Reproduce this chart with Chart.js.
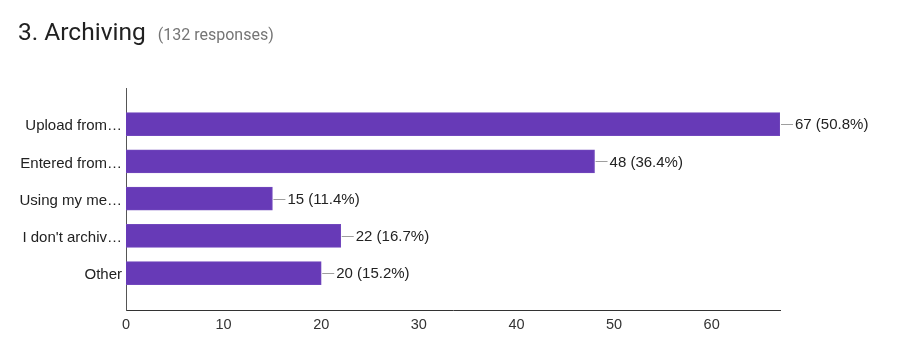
<!DOCTYPE html>
<html>
<head>
<meta charset="utf-8">
<script src="https://cdn.jsdelivr.net/npm/chart.js@4"></script>
<style>
  body { margin: 0; background: #fff; }
  #wrap { position: relative; width: 897px; height: 360px; }
  #title { position: absolute; left: 18px; top: 17px; font-family: Roboto, sans-serif; white-space: nowrap; }
  #title .main { font-size: 24.5px; color: #212121; }
  #title .sub { font-size: 16px; color: #757575; margin-left: 12px; }
  canvas { position: absolute; left: 0; top: 0; }
</style>
</head>
<body>
<div id="wrap">
  <canvas id="chart" width="897" height="360"></canvas>
  <div id="title"><span class="main">3. Archiving</span><span class="sub">(132 responses)</span></div>
</div>
<script>
var categories = ["Upload from\u2026", "Entered from\u2026", "Using my me\u2026", "I don't archiv\u2026", "Other"];
var counts = [67, 48, 15, 22, 20];
var percents = ["50.8%", "36.4%", "11.4%", "16.7%", "15.2%"];
var xTicks = [0, 10, 20, 30, 40, 50, 60];

var valueLabels = {
    id: "valueLabels",
    afterDatasetsDraw: function (chart) {
        var ctx = chart.ctx;
        var meta = chart.getDatasetMeta(0);
        ctx.save();
        ctx.font = "15px 'Liberation Sans', Arial, sans-serif";
        ctx.textBaseline = "middle";
        meta.data.forEach(function (bar, i) {
            var x = bar.x;
            var y = bar.y;
            ctx.strokeStyle = "#9e9e9e";
            ctx.lineWidth = 1;
            ctx.beginPath();
            ctx.moveTo(x + 1, Math.round(y) + 0.5);
            ctx.lineTo(x + 13, Math.round(y) + 0.5);
            ctx.stroke();
            ctx.fillStyle = "#222";
            ctx.fillText(counts[i] + " (" + percents[i] + ")", x + 15, y + 1);
        });
        ctx.restore();
    }
};

var ctx = document.getElementById("chart").getContext("2d");
var chart = new Chart(ctx, {
    type: "bar",
    data: {
        datasets: [{
            data: counts.map(function (v, i) { return { x: v, y: i }; }),
            backgroundColor: "#673ab7",
            borderColor: "#7248bd",
            borderWidth: 1,
            borderSkipped: "left",
            barThickness: 23
        }]
    },
    options: {
        indexAxis: "y",
        responsive: false,
        animation: false,
        layout: { padding: { top: 88, right: 117, bottom: 0, left: 0 } },
        plugins: { legend: { display: false }, tooltip: { enabled: false } },
        scales: {
            x: {
                type: "linear",
                min: 0,
                max: 67,
                grid: { display: false, drawTicks: false },
                border: { display: true, color: "#333", width: 1 },
                afterBuildTicks: function (scale) {
                    scale.ticks = xTicks.map(function (v) { return { value: v }; });
                },
                afterFit: function (scale) { scale.height = 50; },
                ticks: {
                    padding: 6,
                    color: "#333",
                    font: { family: "'Liberation Sans', Arial, sans-serif", size: 14.5 }
                }
            },
            y: {
                type: "linear",
                reverse: true,
                offset: false,
                bounds: "data",
                min: -0.97,
                max: 4.99,
                grid: { display: false, drawTicks: false, offset: false },
                border: { display: true, color: "#555", width: 1 },
                afterBuildTicks: function (scale) {
                    scale.ticks = categories.map(function (c, i) { return { value: i }; });
                },
                afterFit: function (scale) { scale.width = 126; },
                ticks: {
                    padding: 4,
                    labelOffset: 2,
                    color: "#222",
                    font: { family: "'Liberation Sans', Arial, sans-serif", size: 15 },
                    callback: function (value) { return categories[value]; }
                }
            }
        }
    },
    plugins: [valueLabels]
});
</script>
</body>
</html>
